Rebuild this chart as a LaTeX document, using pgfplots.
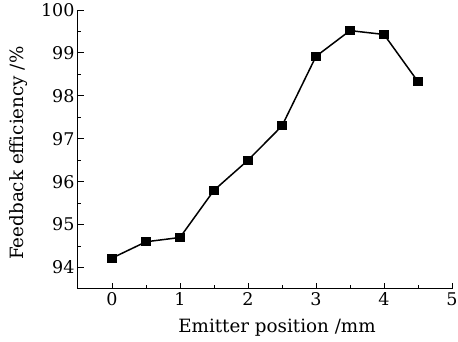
\documentclass[border=0pt]{standalone}
\usepackage{fontspec}
\setmainfont{DejaVu Serif}
\usepackage{pgfplots}
\pgfplotsset{compat=1.18}
\begin{document}
\begin{tikzpicture}
\begin{axis}[
  at={(0,0)}, anchor=south west,
  scale only axis,
  width=374pt, height=279pt,
  xmin=-0.5, xmax=5, ymin=93.5, ymax=100,
  axis lines=left,
  axis line style={-, line width=1pt},
  tick align=inside,
  xtick={0,1,2,3,4,5},
  ytick={94,95,96,97,98,99,100},
  minor x tick num=1, minor y tick num=1,
  major tick length=6pt, minor tick length=3.5pt,
  tick style={line width=0.9pt, black},
  /pgf/number format/assume math mode=true,
  ticklabel style={font=\fontsize{17.5}{19}\selectfont},
  label style={font=\fontsize{18.3}{20}\selectfont},
  xlabel={Emitter position /mm},
  ylabel={Feedback efficiency /\%},
  xlabel style={at={(axis description cs:0.532,-0.1577)}, anchor=base},
  ylabel style={at={(axis description cs:-0.147,0.487)}, anchor=base},
]
\addplot[black, line width=1.5pt, mark=square*, mark size=3.8pt, mark options={solid}] coordinates {
(0,94.22) (0.5,94.6) (1,94.7) (1.5,95.8) (2,96.5) (2.5,97.3) (3,98.92) (3.5,99.52) (4,99.43) (4.5,98.33)
};
\end{axis}
\pgfresetboundingbox
\useasboundingbox (-78pt,-53pt) rectangle (380pt,289pt);
\end{tikzpicture}
\end{document}
